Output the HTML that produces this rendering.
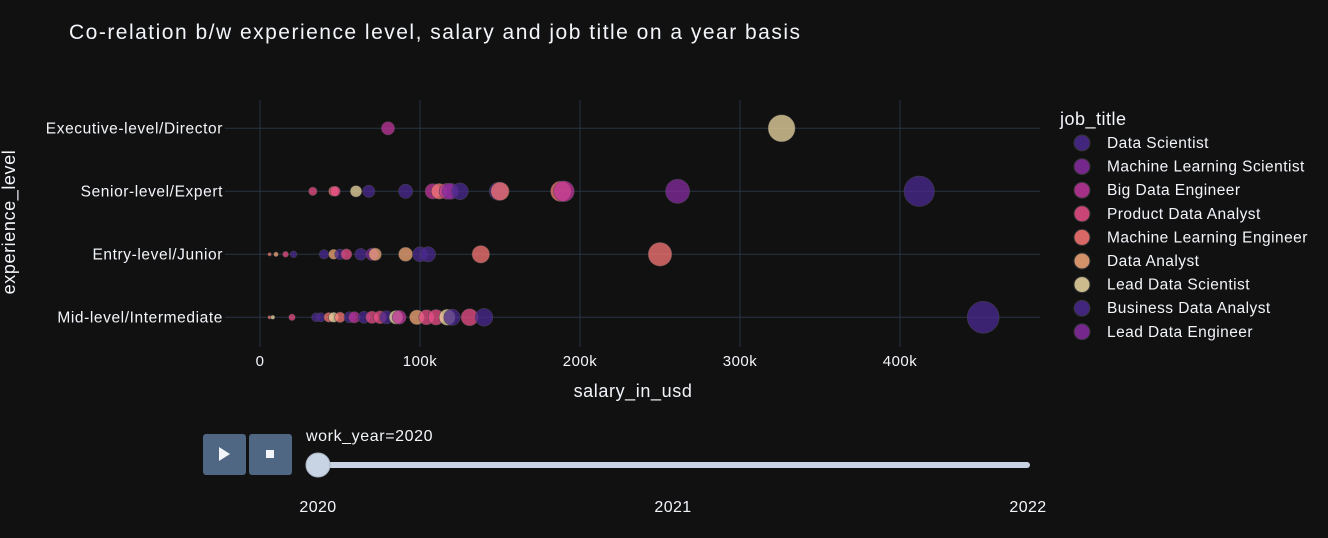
<!DOCTYPE html>
<html><head><meta charset="utf-8"><style>
body{margin:0;background:#111111;width:1328px;height:533px;overflow:hidden;font-family:"Liberation Sans",sans-serif}
svg text{font-family:"Liberation Sans",sans-serif;fill:#f2f5fa}
</style></head><body>
<svg id="chart" width="1328" height="533" xmlns="http://www.w3.org/2000/svg">
<rect width="1328" height="533" fill="#111111"/>
<text x="69" y="39" font-size="21" textLength="731" lengthAdjust="spacing">Co-relation b/w experience level, salary and job title on a year basis</text>
<g id="grid"></g>
<g id="marks"></g>
<g id="axes"></g>
<text x="633" y="397" font-size="18" letter-spacing="0.6" text-anchor="middle">salary_in_usd</text>
<text transform="translate(15,222) rotate(-90)" font-size="18" letter-spacing="0.6" text-anchor="middle">experience_level</text>
<g id="legend"><text x="1060" y="125" font-size="18" letter-spacing="0.5">job_title</text></g>
<g><rect x="203" y="434" width="43" height="41" rx="3" fill="#506784"/><path d="M219 447 L230 454 L219 461Z" fill="#f2f5fa"/></g>
<g><rect x="249" y="434" width="43" height="41" rx="3" fill="#506784"/><rect x="266" y="450" width="8" height="8" fill="#f2f5fa"/></g>
<text x="306" y="441" font-size="16" letter-spacing="0.6">work_year=2020</text>
<rect x="318" y="462" width="712" height="6" rx="3" fill="#c8d3e3"/>
<circle cx="318" cy="465" r="12" fill="#c8d3e3" stroke="#aab4c3" stroke-width="1"/>
<text x="318" y="512" font-size="16" letter-spacing="0.4" text-anchor="middle">2020</text>
<text x="673" y="512" font-size="16" letter-spacing="0.4" text-anchor="middle">2021</text>
<text x="1028" y="512" font-size="16" letter-spacing="0.4" text-anchor="middle">2022</text>
</svg>
<script>
const categories=["Executive-level/Director","Senior-level/Expert","Entry-level/Junior","Mid-level/Intermediate"];
const jobTitles=["Data Scientist","Machine Learning Scientist","Big Data Engineer","Product Data Analyst","Machine Learning Engineer","Data Analyst","Lead Data Scientist","Business Data Analyst","Lead Data Engineer"];
const jobColors=["#4b2991","#872ca2","#c0369d","#ea4f88","#fa7876","#f6a97a","#edd9a3","#4b2991","#872ca2"];
const xTicks=[0,100000,200000,300000,400000];
const xTickLabels=["0","100k","200k","300k","400k"];
const pointLevel=[0,0, 1,1,1,1,1,1,1,1,1,1,1,1,1,1,1,1,1, 2,2,2,2,2,2,2,2,2,2,2,2,2,2,2,2, 3,3,3,3,3,3,3,3,3,3,3,3,3,3,3,3,3,3,3,3,3,3,3,3];
const pointJob=[2,6, 3,4,3,6,0,0,2,4,2,1,0,0,4,4,2,1,0, 4,5,3,0,0,5,0,3,0,1,5,5,0,0,4,4, 4,6,3,0,0,4,6,4,0,2,0,3,3,0,6,2,5,3,3,6,0,3,0,0];
const pointSalary=[80000,326000, 33000,46000,47000,60000,68000,91000,108000,112000,117000,119000,125000,149000,150000,188000,190000,261000,412000, 6000,10000,16000,21000,40000,46000,50000,54000,63000,70000,72000,91000,100000,105000,138000,250000, 6000,8000,20000,35000,38000,43000,46000,50000,56000,59000,65000,70000,75000,79000,85000,87000,98000,104000,110000,117000,120000,131000,140000,452000];
const NS="http://www.w3.org/2000/svg";
const X0=225,X1=1040,Y0=100,Y1=347;
const xs=v=>260+v*1.6/1000;
const ys=i=>128.3+i*63;
const rs=v=>16*Math.sqrt(v/452000);
function mk(t,a,p){const e=document.createElementNS(NS,t);for(const k in a)e.setAttribute(k,a[k]);p.appendChild(e);return e;}
const grid=document.getElementById('grid'),axes=document.getElementById('axes'),marks=document.getElementById('marks'),leg=document.getElementById('legend');
xTicks.forEach((v,i)=>{
 const l=mk('line',{x1:xs(v),x2:xs(v),y1:Y0,y2:Y1,stroke:"#283442","stroke-width":1},grid);
 
 
 const t=mk('text',{x:xs(v),y:Y1+19,"font-size":15,"letter-spacing":0.5,"text-anchor":"middle"},axes);t.textContent=xTickLabels[i];
 
 
});
categories.forEach((c,i)=>{
 const l=mk('line',{x1:X0,x2:X1,y1:ys(i),y2:ys(i),stroke:"#283442","stroke-width":1},grid);
 
 
 const t=mk('text',{x:223,y:ys(i)+5,"font-size":15.5,"letter-spacing":0.6,"text-anchor":"end"},axes);t.textContent=c;
 
 
});
pointSalary.forEach((s,i)=>{
 const c=mk('circle',{cx:xs(s),cy:ys(pointLevel[i]),r:rs(s),fill:jobColors[pointJob[i]],"fill-opacity":0.75,stroke:"#444","stroke-width":0.5},marks);
 
 
});
jobTitles.forEach((j,i)=>{
 const y=143+i*23.6;
 const c=mk('circle',{cx:1082,cy:y,r:8,fill:jobColors[i],"fill-opacity":0.85,stroke:"#333","stroke-width":1},leg);
 
 
 const t=mk('text',{x:1107,y:y+5,"font-size":15.5,"letter-spacing":0.45},leg);t.textContent=j;
 
 
});
</script>
</body></html>
